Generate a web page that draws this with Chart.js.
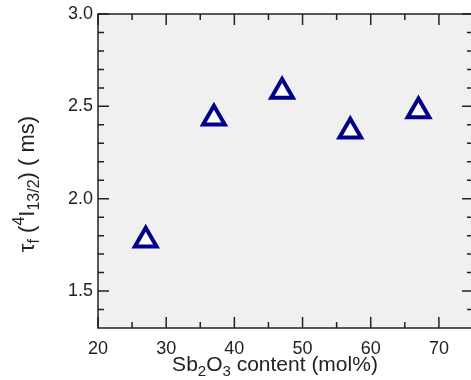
<!DOCTYPE html>
<html>
<head>
<meta charset="utf-8">
<script src="https://cdn.jsdelivr.net/npm/chart.js@4/dist/chart.umd.min.js"></script>
<style>
  html, body { margin: 0; padding: 0; background: #fff; overflow: hidden; }
  #wrap { width: 476px; height: 380px; }
</style>
</head>
<body>
<div id="wrap"><canvas id="lifetime" width="476" height="380"></canvas></div>
<script>
// Sb2O3 content (mol%) vs fluorescence lifetime of 4I13/2 (ms)
var sb2o3 = [27, 37, 47, 57, 67];
var lifetime = [1.775, 2.435, 2.58, 2.365, 2.475];

var xTickLabels = [20, 30, 40, 50, 60, 70];
var xMinorTicks = [25, 35, 45, 55, 65];
var yTickLabels = [1.5, 2.0, 2.5, 3.0];
var yMinorTicks = [1.4, 1.6, 1.7, 1.8, 1.9, 2.1, 2.2, 2.3, 2.4, 2.6, 2.7, 2.8, 2.9];

var font = "'Liberation Sans', Arial, sans-serif";
var ink = '#222';

// draw text made of pieces (sub/superscripts), starting at x on baseline y
function richWidth(ctx, parts, size) {
  var w = 0;
  parts.forEach(function (p) {
    ctx.font = Math.round(size * (p.s || 1)) + 'px ' + font;
    w += ctx.measureText(p.t).width;
  });
  return w;
}
function richText(ctx, parts, x, y, size) {
  parts.forEach(function (p) {
    ctx.font = Math.round(size * (p.s || 1)) + 'px ' + font;
    ctx.fillText(p.t, x, y + (p.dy || 0) * size);
    x += ctx.measureText(p.t).width;
  });
}

var frame = {
  id: 'frame',
  beforeDraw: function (chart) {
    var ctx = chart.ctx, a = chart.chartArea;
    ctx.save();
    ctx.fillStyle = '#f0f0f0';
    ctx.fillRect(a.left, a.top, a.right - a.left, a.bottom - a.top);
    ctx.restore();
  },
  beforeDatasetsDraw: function (chart) {
    var ctx = chart.ctx, a = chart.chartArea;
    var xs = chart.scales.x, ys = chart.scales.y;
    var major = 11, minor = 6;
    ctx.save();
    ctx.strokeStyle = ink;
    ctx.lineWidth = 1.5;
    ctx.beginPath();
    xTickLabels.forEach(function (v) {
      var px = xs.getPixelForValue(v);
      ctx.moveTo(px, a.bottom); ctx.lineTo(px, a.bottom - major);
      ctx.moveTo(px, a.top); ctx.lineTo(px, a.top + major);
    });
    xMinorTicks.forEach(function (v) {
      var px = xs.getPixelForValue(v);
      ctx.moveTo(px, a.bottom); ctx.lineTo(px, a.bottom - minor);
      ctx.moveTo(px, a.top); ctx.lineTo(px, a.top + minor);
    });
    yTickLabels.forEach(function (v) {
      var py = ys.getPixelForValue(v);
      ctx.moveTo(a.left, py); ctx.lineTo(a.left + major, py);
      ctx.moveTo(a.right, py); ctx.lineTo(a.right - major, py);
    });
    yMinorTicks.forEach(function (v) {
      var py = ys.getPixelForValue(v);
      ctx.moveTo(a.left, py); ctx.lineTo(a.left + minor, py);
      ctx.moveTo(a.right, py); ctx.lineTo(a.right - minor, py);
    });
    ctx.stroke();
    ctx.strokeRect(a.left, a.top, a.right - a.left, a.bottom - a.top);
    ctx.restore();
  },
  afterDraw: function (chart) {
    var ctx = chart.ctx, a = chart.chartArea;
    ctx.save();
    ctx.fillStyle = ink;
    ctx.textBaseline = 'alphabetic';

    // x axis title
    var xParts = [
      { t: 'Sb' }, { t: '2', s: 0.72, dy: 0.22 }, { t: 'O' }, { t: '3', s: 0.72, dy: 0.22 },
      { t: ' content (mol%)' }
    ];
    var xw = richWidth(ctx, xParts, 21);
    richText(ctx, xParts, a.left + 177 - xw / 2, 371, 21);

    // y axis title, rotated
    var yParts = [
      { t: '\u03c4' }, { t: 'f', s: 0.72, dy: 0.22 }, { t: ' (' },
      { t: '4', s: 0.72, dy: -0.45 }, { t: 'I' }, { t: '13/2', s: 0.72, dy: 0.22 },
      { t: ') ( ms)' }
    ];
    var yw = richWidth(ctx, yParts, 22);
    ctx.translate(34, (a.top + a.bottom) / 2 + 13);
    ctx.rotate(-Math.PI / 2);
    richText(ctx, yParts, -yw / 2, 0, 22);
    ctx.restore();
  }
};

new Chart(document.getElementById('lifetime'), {
  type: 'scatter',
  data: {
    datasets: [{
      data: sb2o3.map(function (x, i) { return { x: x, y: lifetime[i] }; }),
      pointStyle: 'triangle',
      radius: 12.5,
      borderWidth: 4,
      borderColor: '#00008b',
      backgroundColor: '#ffffff',
      showLine: false
    }]
  },
  options: {
    responsive: false,
    devicePixelRatio: 1,
    animation: false,
    layout: { autoPadding: false, padding: { top: 14, right: 3, left: 0, bottom: 0 } },
    plugins: { legend: { display: false }, tooltip: { enabled: false } },
    scales: {
      x: {
        type: 'linear', min: 20, max: 75,
        grid: { display: false, drawTicks: false },
        border: { display: false },
        ticks: {
          padding: 10, color: ink, font: { family: font, size: 18 },
          callback: function (v) { return v; }
        },
        afterBuildTicks: function (s) { s.ticks = xTickLabels.map(function (v) { return { value: v }; }); },
        afterFit: function (s) { s.height = 52; s.paddingLeft = 0; s.paddingRight = 0; }
      },
      y: {
        type: 'linear', min: 1.3, max: 3.0,
        grid: { display: false, drawTicks: false },
        border: { display: false },
        ticks: {
          padding: 5, color: ink, font: { family: font, size: 18 },
          callback: function (v) { return v.toFixed(1); }
        },
        afterBuildTicks: function (s) { s.ticks = yTickLabels.map(function (v) { return { value: v }; }); },
        afterFit: function (s) { s.width = 98; s.paddingTop = 0; s.paddingBottom = 0; }
      }
    }
  },
  plugins: [frame]
});
</script>
</body>
</html>
